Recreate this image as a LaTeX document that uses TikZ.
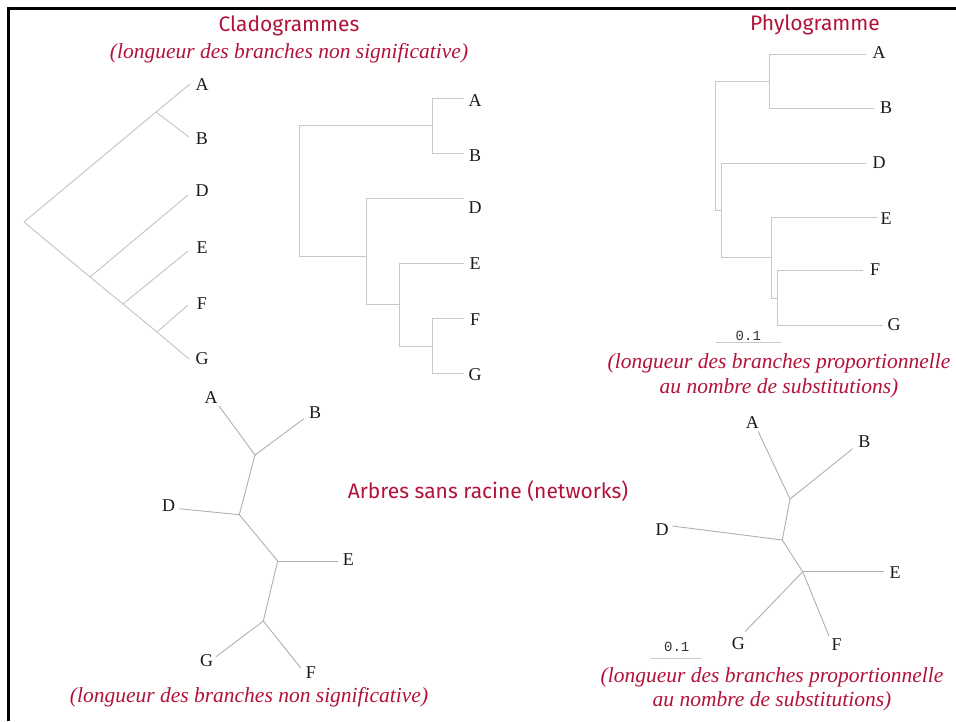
\documentclass[tikz,border=0pt]{standalone}
\usepackage{fontspec}
\setmainfont{Liberation Serif}
\newfontfamily\headfont{Fira Sans}
\newfontfamily\barfont{Liberation Mono}
\definecolor{titlered}{RGB}{178,18,56}
\definecolor{branch}{RGB}{200,200,200}
\definecolor{branchdark}{RGB}{175,175,175}
\tikzset{
  edge/.style={draw=branch, line width=1pt},
  uedge/.style={draw=branchdark, line width=0.9pt},
  leaf/.style={font=\fontsize{18}{20}\selectfont, inner sep=0pt, text=black!90},
  heading/.style={font=\headfont\fontsize{21}{24}\selectfont, text=titlered, inner sep=0pt},
  note/.style={font=\itshape\fontsize{21.5}{24.5}\selectfont, text=titlered, inner sep=0pt, align=center},
  scalelabel/.style={font=\barfont\fontsize{14}{16}\selectfont, text=black!80, inner sep=0pt},
  scalebar/.style={draw=branch, line width=1pt}
}
\begin{document}
\begin{tikzpicture}[x=1pt,y=-1pt]
\useasboundingbox (0,0) rectangle (956,721);

% frame
\draw[line width=3pt] (8.7,721) -- (8.7,8.7) -- (956,8.7);

% ---------- headings ----------
\node[heading] (hclado) at (289,26) {Cladogrammes};
\node[note] (nclado) at (289,53) {(longueur des branches non significative)};
\node[heading] (hphylo) at (815,25) {Phylogramme};
\node[note] (nphylo) at (779,376) {(longueur des branches proportionnelle\\au nombre de substitutions)};
\node[heading] (hnet) at (488,491) {Arbres sans racine (networks)};
\node[note] (nnetl) at (249,697) {(longueur des branches non significative)};
\node[note] (nnetr) at (772,689.5) {(longueur des branches proportionnelle\\au nombre de substitutions)};

% ---------- slanted cladogram ----------
\coordinate (sR) at (24,222);
\coordinate (sAB) at (156,112);
\coordinate (sA) at (190,84);
\coordinate (sB) at (189,137);
\coordinate (sN1) at (90,277);
\coordinate (sD) at (188,195);
\coordinate (sN2) at (123,304);
\coordinate (sE) at (188,251);
\coordinate (sN3) at (157,332);
\coordinate (sF) at (188,305);
\coordinate (sG) at (189,359);
\draw[edge] (sR) -- (sAB) -- (sA);
\draw[edge] (sAB) -- (sB);
\draw[edge] (sR) -- (sN1) -- (sN2) -- (sN3) -- (sG);
\draw[edge] (sN1) -- (sD);
\draw[edge] (sN2) -- (sE);
\draw[edge] (sN3) -- (sF);
\node[leaf] (lsA) at (202,85) {A};
\node[leaf] (lsB) at (202,139) {B};
\node[leaf] (lsD) at (202,191) {D};
\node[leaf] (lsE) at (202,248) {E};
\node[leaf] (lsF) at (202,304) {F};
\node[leaf] (lsG) at (202,359) {G};

% ---------- rectangular cladogram ----------
\coordinate (rR) at (299.3,125.7);
\coordinate (rAB) at (432,125.7);
\coordinate (rA) at (464,98.7);
\coordinate (rB) at (464,153);
\coordinate (rDEFG) at (366.7,256);
\coordinate (rD) at (464,198);
\coordinate (rEFG) at (399.3,304);
\coordinate (rE) at (464,263);
\coordinate (rFG) at (432.3,346);
\coordinate (rF) at (464,318);
\coordinate (rG) at (464,373);
\draw[edge] (rR) |- (rAB);
\draw[edge] (rR) |- (rDEFG);
\draw[edge] (rAB) |- (rA);
\draw[edge] (rAB) |- (rB);
\draw[edge] (rDEFG) |- (rD);
\draw[edge] (rDEFG) |- (rEFG);
\draw[edge] (rEFG) |- (rE);
\draw[edge] (rEFG) |- (rFG);
\draw[edge] (rFG) |- (rF);
\draw[edge] (rFG) |- (rG);
\node[leaf] (lrA) at (475,101) {A};
\node[leaf] (lrB) at (475,156) {B};
\node[leaf] (lrD) at (475,208) {D};
\node[leaf] (lrE) at (475,264) {E};
\node[leaf] (lrF) at (475,320) {F};
\node[leaf] (lrG) at (475,375) {G};

% ---------- phylogram ----------
\coordinate (pR) at (715.3,81.7);
\coordinate (pAB) at (769.3,81.7);
\coordinate (pA) at (865.7,54.3);
\coordinate (pB) at (874,108.3);
\coordinate (pDEFG) at (721.3,210);
\coordinate (pD) at (865.7,163.3);
\coordinate (pEFG) at (771.7,257.3);
\coordinate (pE) at (877.7,217.3);
\coordinate (pFG) at (777.3,298.3);
\coordinate (pF) at (863.3,270);
\coordinate (pG) at (882.7,325);
\draw[edge] (pR) |- (pAB);
\draw[edge] (pR) |- (pDEFG);
\draw[edge] (pAB) |- (pA);
\draw[edge] (pAB) |- (pB);
\draw[edge] (pDEFG) |- (pD);
\draw[edge] (pDEFG) |- (pEFG);
\draw[edge] (pEFG) |- (pE);
\draw[edge] (pEFG) |- (pFG);
\draw[edge] (pFG) |- (pF);
\draw[edge] (pFG) |- (pG);
\node[leaf] (lpA) at (879,53) {A};
\node[leaf] (lpB) at (886,108) {B};
\node[leaf] (lpD) at (879,163) {D};
\node[leaf] (lpE) at (886,219) {E};
\node[leaf] (lpF) at (875,270) {F};
\node[leaf] (lpG) at (894,325) {G};
\coordinate (pbar1) at (716,342.7);
\coordinate (pbar2) at (781,342.7);
\draw[scalebar] (pbar1) -- (pbar2);
\node[scalelabel] (lpbar) at (748.3,336) {0.1};

% ---------- unrooted tree (left) ----------
\coordinate (uAB) at (255,455);
\coordinate (uA) at (219,406);
\coordinate (uB) at (304,418.7);
\coordinate (uN2) at (239.3,514.7);
\coordinate (uD) at (179.3,508.7);
\coordinate (uN3) at (277.7,561);
\coordinate (uE) at (337.7,561);
\coordinate (uFG) at (263.3,621);
\coordinate (uG) at (216,656.7);
\coordinate (uF) at (301,668.3);
\draw[uedge] (uA) -- (uAB) -- (uB);
\draw[uedge] (uAB) -- (uN2) -- (uN3) -- (uFG);
\draw[uedge] (uN2) -- (uD);
\draw[uedge] (uN3) -- (uE);
\draw[uedge] (uFG) -- (uG);
\draw[uedge] (uFG) -- (uF);
\node[leaf] (luA) at (211,397.3) {A};
\node[leaf] (luB) at (315,412.7) {B};
\node[leaf] (luD) at (168.7,506) {D};
\node[leaf] (luE) at (348.3,560) {E};
\node[leaf] (luG) at (206.7,660.7) {G};
\node[leaf] (luF) at (311,672.7) {F};

% ---------- unrooted tree (right, scaled) ----------
\coordinate (vAB) at (790,499);
\coordinate (vA) at (758.3,431.7);
\coordinate (vB) at (852.7,448.7);
\coordinate (vN2) at (782.3,540);
\coordinate (vD) at (672.3,526);
\coordinate (vN3) at (802.7,571.7);
\coordinate (vE) at (884,571.7);
\coordinate (vF) at (829,636);
\coordinate (vG) at (745,631.7);
\draw[uedge] (vA) -- (vAB) -- (vB);
\draw[uedge] (vAB) -- (vN2) -- (vN3);
\draw[uedge] (vN2) -- (vD);
\draw[uedge] (vN3) -- (vE);
\draw[uedge] (vN3) -- (vF);
\draw[uedge] (vN3) -- (vG);
\node[leaf] (lvA) at (752.3,422.7) {A};
\node[leaf] (lvB) at (864.3,441.7) {B};
\node[leaf] (lvD) at (662,530) {D};
\node[leaf] (lvE) at (895,572.3) {E};
\node[leaf] (lvF) at (836.7,644.3) {F};
\node[leaf] (lvG) at (738.3,643.3) {G};
\coordinate (vbar1) at (650.7,658.7);
\coordinate (vbar2) at (700.7,658.7);
\draw[scalebar] (vbar1) -- (vbar2);
\node[scalelabel] (lvbar) at (676.7,647.3) {0.1};
\end{tikzpicture}
\end{document}
